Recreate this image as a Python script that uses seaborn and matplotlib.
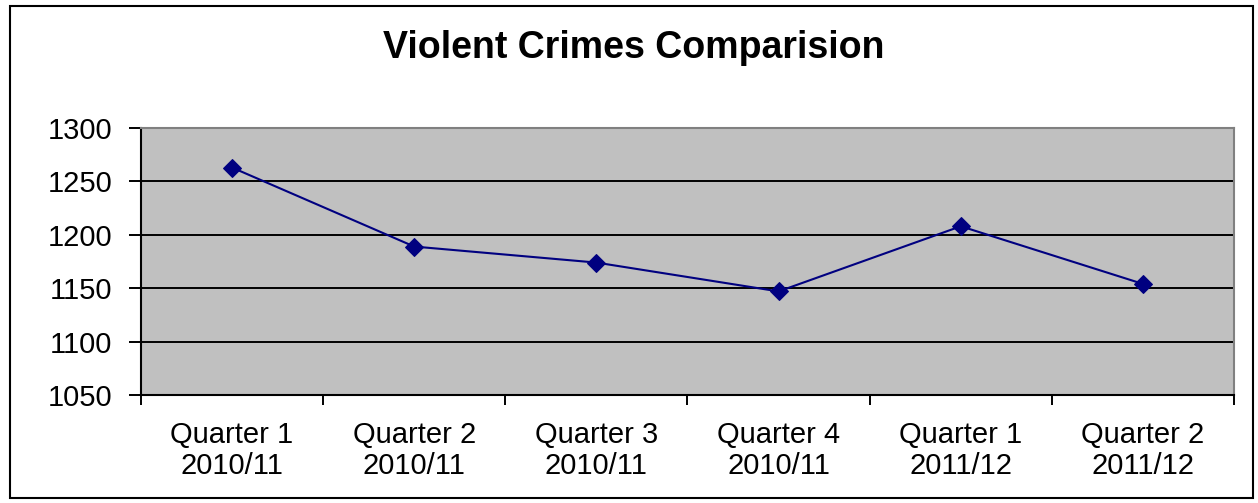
import matplotlib
matplotlib.use("Agg")
import matplotlib.pyplot as plt
import seaborn as sns
import pandas as pd
from matplotlib.patches import Rectangle
from matplotlib.ticker import FixedLocator, NullFormatter

# values
quarters = ["Quarter 1\n2010/11", "Quarter 2\n2010/11", "Quarter 3\n2010/11",
            "Quarter 4\n2010/11", "Quarter 1\n2011/12", "Quarter 2\n2011/12"]
crimes = [1263, 1189, 1174, 1147, 1208, 1154]
y_ticks = [1050, 1100, 1150, 1200, 1250, 1300]

df = pd.DataFrame({"quarter": quarters, "crimes": crimes})

sns.set_style("white")
plt.rcParams["font.family"] = ["Liberation Sans", "DejaVu Sans"]
plt.rcParams["text.color"] = "black"
plt.rcParams["xtick.color"] = "black"
plt.rcParams["ytick.color"] = "black"
plt.rcParams["xtick.labelcolor"] = "black"
plt.rcParams["ytick.labelcolor"] = "black"

fig = plt.figure(figsize=(12.58, 5.03), dpi=100)
ax = fig.add_axes([0.112, 0.2147, 0.869, 0.5308])
ax.set_facecolor("#C0C0C0")

sns.lineplot(data=df, x="quarter", y="crimes", sort=False, ax=ax,
             color="#000080", linewidth=1.5, marker="D", markersize=9,
             markeredgecolor="#000080", zorder=3)

ax.set_xlim(-0.5, len(quarters) - 0.5)
ax.set_ylim(1050, 1300)
ax.set_yticks(y_ticks)
ax.yaxis.grid(True, color="black", linewidth=1.4)
ax.set_axisbelow(True)

# category labels centred, tick marks between categories
ax.set_xticks(range(len(quarters)))
ax.set_xticklabels(quarters, linespacing=1.1)
ax.xaxis.set_minor_locator(FixedLocator([i - 0.5 for i in range(len(quarters) + 1)]))
ax.xaxis.set_minor_formatter(NullFormatter())
ax.tick_params(axis="x", which="major", bottom=True, length=0, pad=19, labelsize=21)
ax.tick_params(axis="x", which="minor", bottom=True, length=7, width=1.4,
               color="black", direction="out")
ax.tick_params(axis="y", which="major", left=True, length=8.5, width=1.4,
               color="black", direction="out", pad=12, labelsize=21)
ax.set_xlabel("")
ax.set_ylabel("")

for side in ["left", "bottom"]:
    ax.spines[side].set_color("black")
    ax.spines[side].set_linewidth(1.5)
for side in ["top", "right"]:
    ax.spines[side].set_color("#808080")
    ax.spines[side].set_linewidth(1.5)

fig.text(0.504, 0.904, "Violent Crimes Comparision", ha="center", va="center",
         fontsize=27, fontweight="bold", color="black")

fig.patches.append(Rectangle((10 / 1258, 5 / 503), 1243 / 1258, 492 / 503,
                             transform=fig.transFigure, fill=False,
                             edgecolor="black", linewidth=1.5))

fig.savefig("out.png", dpi=100)
